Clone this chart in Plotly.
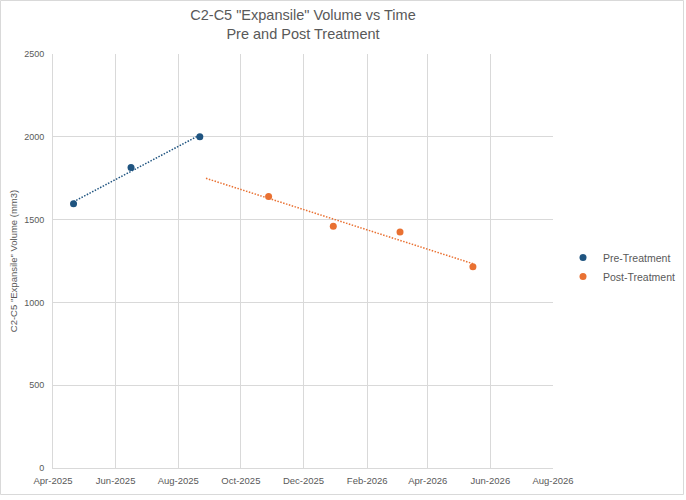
import numpy as np
import pandas as pd
import plotly.graph_objects as go

pre_dates = ["2025-04-21", "2025-06-16", "2025-08-22"]
pre_vals = [1595, 1815, 2000]
post_dates = ["2025-10-28", "2025-12-30", "2026-03-05", "2026-05-15"]
post_vals = [1640, 1460, 1425, 1215]
post_backcast_days = 61

tick_dates = ["2025-04-01", "2025-06-01", "2025-08-01", "2025-10-01", "2025-12-01",
              "2026-02-01", "2026-04-01", "2026-06-01", "2026-08-01"]

PRE_C = "#1F5480"
POST_C = "#E97132"
FONT = "Liberation Sans, Arial, sans-serif"
DOT = "1.5px,1.5px"


def trend(dates, vals, back=0):
    d = pd.to_datetime(dates)
    t0 = d[0]
    x = np.array([(v - t0).days for v in d], dtype=float)
    m, b = np.polyfit(x, np.array(vals, dtype=float), 1)
    xs = np.array([-back, x[-1]])
    return [t0 + pd.Timedelta(days=float(v)) for v in xs], m * xs + b


fig = go.Figure()
tx, ty = trend(pre_dates, pre_vals)
fig.add_trace(go.Scatter(x=tx, y=ty, mode="lines", line=dict(color=PRE_C, width=1.5, dash=DOT),
                         showlegend=False, hoverinfo="skip"))
tx, ty = trend(post_dates, post_vals, post_backcast_days)
fig.add_trace(go.Scatter(x=tx, y=ty, mode="lines", line=dict(color=POST_C, width=1.5, dash=DOT),
                         showlegend=False, hoverinfo="skip"))
fig.add_trace(go.Scatter(x=pd.to_datetime(pre_dates), y=pre_vals, mode="markers", name="Pre-Treatment",
                         marker=dict(color=PRE_C, size=7)))
fig.add_trace(go.Scatter(x=pd.to_datetime(post_dates), y=post_vals, mode="markers", name="Post-Treatment",
                         marker=dict(color=POST_C, size=7)))

W, H = 686, 500
ml, mr, mt, mb = 53, 133, 54, 32
pw, ph = W - ml - mr, H - mt - mb

fig.update_layout(
    width=W, height=H,
    margin=dict(l=ml, r=mr, t=mt, b=mb, autoexpand=False),
    paper_bgcolor="white", plot_bgcolor="white",
    font=dict(family=FONT, color="#595959"),
    title=dict(text='C2-C5 "Expansile" Volume vs Time<br>Pre and Post Treatment',
               x=0.5, xanchor="center", xref="paper", yref="container", y=1 - 20 / H, yanchor="middle",
               font=dict(size=14.5, color="#595959", family=FONT)),
    legend=dict(x=(563 - ml) / pw, xanchor="left", y=(H - mb - 243) / ph, yanchor="top",
                font=dict(size=10.5, color="#595959", family=FONT),
                itemsizing="trace", itemwidth=30, tracegroupgap=0, bgcolor="rgba(0,0,0,0)"),
    xaxis=dict(type="date", range=[tick_dates[0], tick_dates[-1]],
               tickvals=tick_dates, tickformat="%b-%Y",
               showgrid=True, gridcolor="#D9D9D9", gridwidth=1,
               showline=True, linecolor="#D9D9D9", linewidth=1,
               ticks="", ticklabelstandoff=4,
               tickfont=dict(size=9.5, color="#595959"), zeroline=False),
    yaxis=dict(range=[0, 2500], dtick=500, tickformat="d",
               showgrid=True, gridcolor="#D9D9D9", gridwidth=1,
               showline=True, linecolor="#D9D9D9", linewidth=1,
               ticks="", ticklabelstandoff=6,
               tickfont=dict(size=9, color="#595959"), zeroline=False,
               title=dict(text='C2-C5 "Expansile" Volume (mm3)', font=dict(size=9.5, color="#595959"),
                          standoff=4)),
)
fig.add_shape(type="rect", xref="paper", yref="paper",
              x0=(0.5 - ml) / pw, x1=(683.5 - ml) / pw,
              y0=(H - mb - 494.5) / ph, y1=(H - mb - 0.5) / ph,
              line=dict(color="#D9D9D9", width=1), layer="below")
fig.write_html("out.html")
